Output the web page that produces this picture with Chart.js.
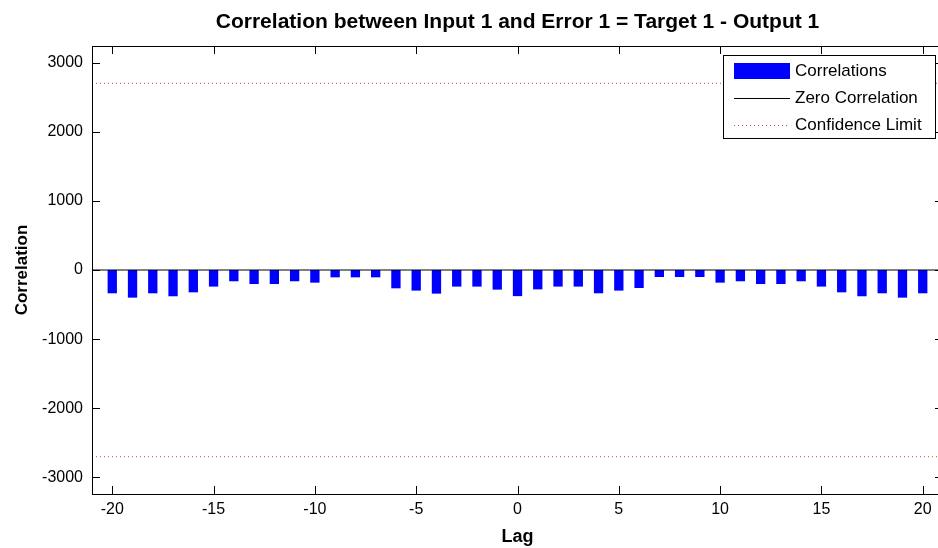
<!DOCTYPE html>
<html>
<head>
<meta charset="utf-8">
<script src="https://cdn.jsdelivr.net/npm/chart.js@4.4.0/dist/chart.umd.min.js"></script>
<style>
html,body{margin:0;padding:0;overflow:hidden;background:#fff}
#wrap{width:950px;height:548px}
</style>
</head>
<body>
<div id="wrap"><canvas id="c" width="950" height="548"></canvas></div>
<script>
// ---- data ----
const lags = [-20,-19,-18,-17,-16,-15,-14,-13,-12,-11,-10,-9,-8,-7,-6,-5,-4,-3,-2,-1,0,1,2,3,4,5,6,7,8,9,10,11,12,13,14,15,16,17,18,19,20];
const correlations = [-337,-400,-337,-380,-323,-240,-163,-203,-203,-163,-183,-106,-106,-106,-265,-298,-342,-240,-240,-284,-378,-280,-240,-240,-337,-298,-260,-101,-101,-101,-183,-163,-203,-203,-163,-240,-323,-380,-337,-400,-337];
const confidenceLimit = 2700;
const axisLimit = 3240;
const lagLimit = 21;
const xTickValues = [-20,-15,-10,-5,0,5,10,15,20];
const yTickValues = [-3000,-2000,-1000,0,1000,2000,3000];
const titleText = 'Correlation between Input 1 and Error 1 = Target 1 - Output 1';
const xLabel = 'Lag';
const yLabel = 'Correlation';
const seriesLabels = ['Correlations','Zero Correlation','Confidence Limit'];

const FONT = '"Liberation Sans", Arial, Helvetica, sans-serif';

const barData = lags.map((l,i)=>({x:l,y:correlations[i]}));
const zeroData = [{x:-lagLimit,y:0},{x:lagLimit,y:0}];
const upperData = [{x:-lagLimit,y:confidenceLimit},{x:lagLimit,y:confidenceLimit}];
const lowerData = [{x:-lagLimit,y:-confidenceLimit},{x:lagLimit,y:-confidenceLimit}];

const frameTicks = {
  id:'frameTicks',
  afterDatasetsDraw(chart){
    const {ctx, chartArea:a, scales} = chart;
    const L = 8;
    ctx.save();
    ctx.strokeStyle = '#000';
    ctx.lineWidth = 1;
    ctx.beginPath();
    xTickValues.forEach(v=>{
      const x = Math.round(scales.x.getPixelForValue(v))+0.5;
      ctx.moveTo(x,a.bottom); ctx.lineTo(x,a.bottom-L);
      ctx.moveTo(x,a.top); ctx.lineTo(x,a.top+L);
    });
    yTickValues.forEach(v=>{
      const y = Math.round(scales.y.getPixelForValue(v))+0.5;
      ctx.moveTo(a.left,y); ctx.lineTo(a.left+L,y);
      ctx.moveTo(a.right,y); ctx.lineTo(a.right-L,y);
    });
    ctx.stroke();
    ctx.strokeRect(Math.round(a.left)+0.5, Math.round(a.top)+0.5, Math.round(a.right-a.left), Math.round(a.bottom-a.top));

    // legend box
    const bx = 723.5, by = 55.5, bw = 212, bh = 83;
    ctx.fillStyle = '#fff';
    ctx.fillRect(bx,by,bw,bh);
    ctx.strokeRect(bx,by,bw,bh);
    const ds = chart.data.datasets;
    const rows = [71, 98, 125];
    const sx0 = 734, sx1 = 790;
    ctx.fillStyle = ds[0].backgroundColor;
    ctx.fillRect(sx0, rows[0]-8, sx1-sx0, 16);
    ctx.strokeStyle = ds[1].borderColor;
    ctx.beginPath(); ctx.moveTo(sx0, rows[1]+0.5); ctx.lineTo(sx1, rows[1]+0.5); ctx.stroke();
    ctx.strokeStyle = ds[2].borderColor;
    ctx.setLineDash(ds[2].borderDash);
    ctx.beginPath(); ctx.moveTo(sx0, rows[2]+0.5); ctx.lineTo(sx1, rows[2]+0.5); ctx.stroke();
    ctx.setLineDash([]);
    ctx.fillStyle = '#000';
    ctx.font = '17px ' + FONT;
    ctx.textBaseline = 'middle';
    ctx.textAlign = 'left';
    [ds[0].label, ds[1].label, ds[2].label].forEach((t,i)=>ctx.fillText(t, 795, rows[i]));
    ctx.restore();
  }
};

new Chart(document.getElementById('c'), {
  type:'bar',
  data:{
    datasets:[
      {type:'bar', label:seriesLabels[0], data:barData, backgroundColor:'#0000ff', borderWidth:0, barPercentage:0.46, categoryPercentage:1, order:3},
      {type:'line', label:seriesLabels[1], data:zeroData, borderColor:'#000', borderWidth:1, pointRadius:0, order:1},
      {type:'line', label:seriesLabels[2], data:upperData, borderColor:'rgb(225,70,70)', borderWidth:1, borderDash:[1,3], pointRadius:0, order:2},
      {type:'line', label:seriesLabels[2]+' ', data:lowerData, borderColor:'rgb(225,70,70)', borderWidth:1, borderDash:[1,3], pointRadius:0, order:2}
    ]
  },
  options:{
    responsive:false,
    animation:false,
    layout:{padding:{left:0,right:7,top:0,bottom:0}},
    plugins:{legend:{display:false}, tooltip:{enabled:false}, title:{display:false}},
    scales:{
      x:{
        type:'linear', position:'bottom', min:-lagLimit, max:lagLimit, offset:false,
        afterBuildTicks:s=>{s.ticks = xTickValues.map(v=>({value:v}));},
        afterFit:s=>{s.height = 54;},
        grid:{display:false, drawTicks:false, offset:false},
        border:{display:false},
        ticks:{color:'#000', font:{family:FONT,size:16}, padding:6, maxRotation:0, autoSkip:false, callback:v=>String(v)},
        title:{display:true, text:xLabel, color:'#000', font:{family:FONT,size:18,weight:'bold'}, padding:{top:5,bottom:0}}
      },
      xTop:{
        type:'linear', position:'top', min:-lagLimit, max:lagLimit, offset:false,
        afterFit:s=>{s.height = 46;},
        grid:{display:false, drawTicks:false, offset:false},
        border:{display:false},
        ticks:{display:false},
        title:{display:true, text:titleText, color:'#000', font:{family:FONT,size:21,weight:'bold'}, padding:{top:10,bottom:0}}
      },
      y:{
        type:'linear', position:'left', min:-axisLimit, max:axisLimit,
        afterBuildTicks:s=>{s.ticks = yTickValues.map(v=>({value:v}));},
        afterFit:s=>{s.width = 92;},
        grid:{display:false, drawTicks:false},
        border:{display:false},
        ticks:{color:'#000', font:{family:FONT,size:16}, padding:9, autoSkip:false, callback:v=>String(v)},
        title:{display:true, text:yLabel, color:'#000', font:{family:FONT,size:17,weight:'bold'}, padding:{top:12,bottom:0}}
      }
    }
  },
  plugins:[frameTicks]
});
</script>
</body>
</html>
